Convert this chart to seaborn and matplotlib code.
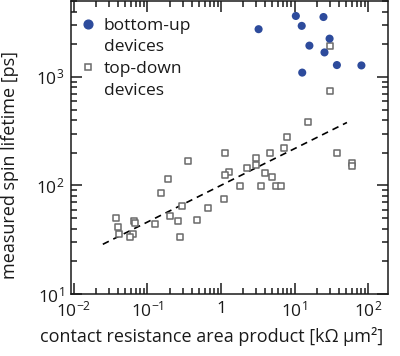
import numpy as np
import pandas as pd
import matplotlib
matplotlib.use('Agg')
import matplotlib.pyplot as plt
from matplotlib.lines import Line2D
from matplotlib.ticker import LogLocator, FixedLocator, NullFormatter
import seaborn as sns

# bottom-up devices (filled circles)
bu_ra = [3.24, 10.4, 12.5, 24.7, 29.9, 15.9, 25.5, 37.6, 81.0, 12.7]
bu_tau = [2750, 3640, 2950, 3560, 2250, 1940, 1680, 1285, 1275, 1095]

# top-down devices (open squares)
td_ra = [29.9, 29.9, 15.2, 7.77, 7.22, 4.59, 37.6, 60.4, 60.4, 2.98,
         2.95, 2.25, 3.97, 4.89, 3.46, 5.67, 6.56, 1.13, 1.27, 1.13,
         1.80, 1.09, 0.657, 0.357, 0.190, 0.154, 0.296, 0.202, 0.260, 0.465,
         0.281, 0.125, 0.0658, 0.068, 0.0643, 0.0585, 0.0376, 0.0392, 0.0409]
td_tau = [1940, 741, 380, 277, 220, 200, 198, 161, 150, 179,
          155, 145, 129, 120, 99, 99, 99, 198, 134, 125,
          98.6, 75, 62.2, 168, 114, 84.5, 65.3, 52.6, 47.3, 47.7,
          33.4, 44.0, 47.1, 45.2, 35.6, 33.7, 50.5, 41.5, 35.6]

# dashed trend line (end points)
fit_ra = [0.0247, 51.5]
fit_tau = [28.7, 380]

xtick_vals = [1e-2, 1e-1, 1, 1e1, 1e2]
xtick_labels = ['$10^{-2}$', '$10^{-1}$', '1', '$10^{1}$', '$10^{2}$']
ytick_vals = [1e1, 1e2, 1e3]
ytick_labels = ['$10^{1}$', '$10^{2}$', '$10^{3}$']

bu = pd.DataFrame({'ra': bu_ra, 'tau': bu_tau})
td = pd.DataFrame({'ra': td_ra, 'tau': td_tau})
fit = pd.DataFrame({'ra': fit_ra, 'tau': fit_tau})

sns.set_style('ticks')
plt.rcParams['font.family'] = ['Open Sans', 'DejaVu Sans']
plt.rcParams['mathtext.fontset'] = 'custom'
plt.rcParams['mathtext.rm'] = 'Open Sans'
plt.rcParams['mathtext.it'] = 'Open Sans'
plt.rcParams['mathtext.default'] = 'regular'

blue = '#2d4b9c'
gray = '#6a6a6a'
ink = '#1a1a1a'

fig = plt.figure(figsize=(4.0, 3.56), dpi=100)
ax = fig.add_axes([71 / 400, (356 - 294) / 356, (388 - 71) / 400, (294 - 1) / 356])
ax.set_xscale('log')
ax.set_yscale('log')

sns.lineplot(data=fit, x='ra', y='tau', ax=ax, color='black', lw=1.2,
             linestyle=(0, (4, 3)), zorder=1)
sns.scatterplot(data=td, x='ra', y='tau', ax=ax, marker='s', s=22,
                facecolor='white', edgecolor=gray, linewidth=1.1, zorder=2)
sns.scatterplot(data=bu, x='ra', y='tau', ax=ax, marker='o', s=34,
                color=blue, edgecolor='none', zorder=3)

ax.set_xlim(10 ** -2.04, 10 ** 2.27)
ax.set_ylim(10, 5000)

ax.xaxis.set_major_locator(FixedLocator(xtick_vals))
ax.set_xticklabels(xtick_labels)
ax.xaxis.set_minor_locator(LogLocator(base=10, subs=np.arange(2, 10), numticks=20))
ax.xaxis.set_minor_formatter(NullFormatter())
ax.yaxis.set_major_locator(FixedLocator(ytick_vals))
ax.set_yticklabels(ytick_labels)
ax.yaxis.set_minor_locator(LogLocator(base=10, subs=np.arange(2, 10), numticks=20))
ax.yaxis.set_minor_formatter(NullFormatter())

ax.tick_params(which='both', direction='in', top=True, right=True,
               labelsize=12.5, colors=ink, width=1.1, pad=5)
ax.tick_params(which='major', length=8)
ax.tick_params(which='minor', length=4)
for sp in ax.spines.values():
    sp.set_linewidth(1.1)
    sp.set_color(ink)

ax.set_xlabel('contact resistance area product [k\u03a9 \u03bcm\u00b2]', fontsize=13, color=ink)
ax.set_ylabel('measured spin lifetime [ps]', fontsize=13, color=ink)
ax.xaxis.set_label_coords(0.445, -0.112)
ax.yaxis.set_label_coords(-0.165, 0.44)

handles = [Line2D([], [], marker='o', color=blue, ls='none', markersize=6.3),
           Line2D([], [], ls='none'),
           Line2D([], [], marker='s', ls='none', markerfacecolor='white',
                  markeredgecolor=gray, markeredgewidth=1.1, markersize=4.8),
           Line2D([], [], ls='none')]
labels = ['bottom-up', 'devices', 'top-down', 'devices']
leg = ax.legend(handles, labels, loc='upper left', frameon=False, fontsize=12.5,
                handlelength=0.6, handletextpad=0.6, labelspacing=0.32,
                borderaxespad=0.3, bbox_to_anchor=(0.0, 0.985))
for t in leg.get_texts():
    t.set_color(ink)

fig.savefig('out.png', dpi=100)
